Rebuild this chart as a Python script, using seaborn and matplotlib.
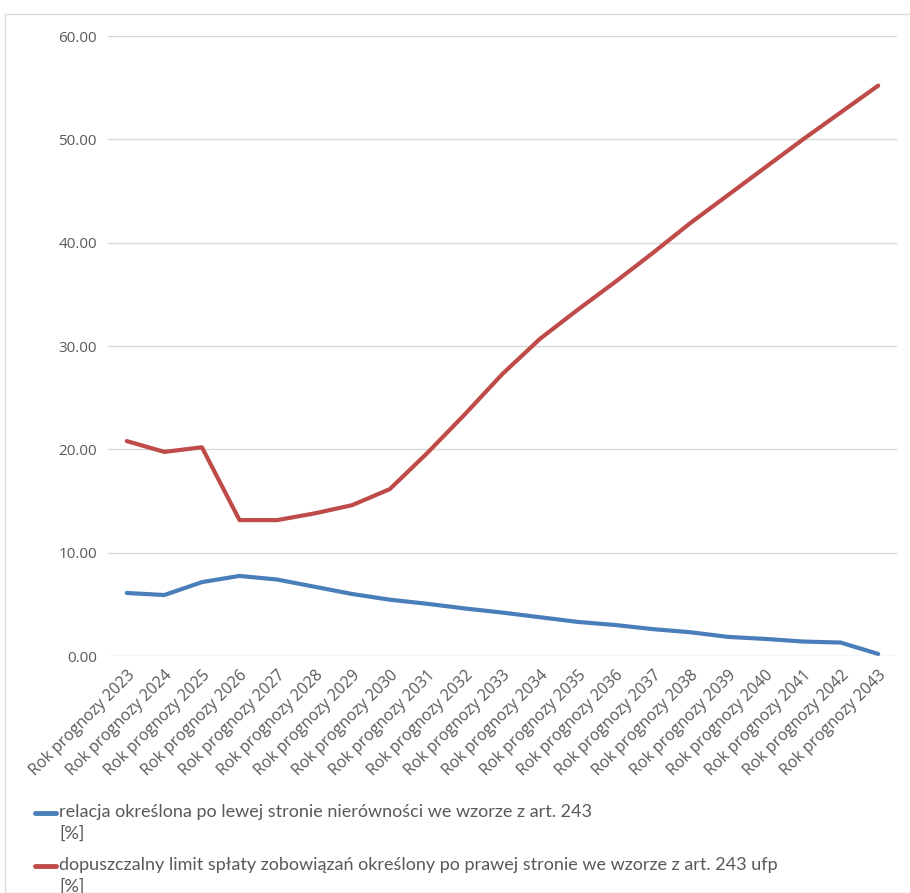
import matplotlib
matplotlib.use('Agg')
import matplotlib.pyplot as plt
from matplotlib.lines import Line2D
from matplotlib.patches import Rectangle
import seaborn as sns
import pandas as pd

lata = [f'Rok prognozy {r}' for r in range(2023, 2044)]
relacja_lewa = [6.1, 5.9, 7.15, 7.75, 7.4, 6.7, 6.0, 5.45, 5.05, 4.6, 4.2,
                3.75, 3.3, 3.0, 2.6, 2.3, 1.85, 1.65, 1.4, 1.3, 0.2]
limit_prawa = [20.8, 19.75, 20.2, 13.15, 13.15, 13.8, 14.6, 16.15, 19.65, 23.4, 27.3,
               30.7, 33.5, 36.2, 39.0, 41.9, 44.6, 47.3, 50.0, 52.6, 55.2]
etykiety = ['relacja określona po lewej stronie nierówności we wzorze z art. 243',
            'dopuszczalny limit spłaty zobowiązań określony po prawej stronie we wzorze z art. 243 ufp']
kolory = ['#4a7ebb', '#be4b48']

sns.set_style('white')
plt.rcParams['font.family'] = ['Lato', 'DejaVu Sans']

df = pd.DataFrame({'rok': lata * 2,
                   'wartosc': relacja_lewa + limit_prawa,
                   'seria': [etykiety[0]] * len(lata) + [etykiety[1]] * len(lata)})
df['x'] = list(range(len(lata))) * 2

fig = plt.figure(figsize=(9.1, 8.93), dpi=100)
ax = fig.add_axes([108 / 910, 1 - 656 / 893, (897 - 108) / 910, (656 - 36) / 893])

sns.lineplot(data=df, x='x', y='wartosc', hue='seria', palette=kolory,
             linewidth=3, ax=ax, legend=False, sort=False)

ax.set_xlim(-0.5, len(lata) - 0.5)
ax.set_ylim(0, 60)
ax.set_yticks(range(0, 61, 10))
ax.set_yticklabels([f'{v:.2f}' for v in range(0, 61, 10)], color='#595959',
                   fontsize=11, family=['Open Sans', 'DejaVu Sans'])
ax.set_xticks(range(len(lata)))
ax.set_xticklabels(lata, rotation=45, ha='right', rotation_mode='anchor',
                   color='#595959', fontsize=11.5, family=['Open Sans', 'DejaVu Sans'])
ax.tick_params(axis='both', length=0, pad=8)
ax.yaxis.grid(True, color='#d9d9d9', linewidth=1)
ax.set_axisbelow(True)
for s in ax.spines.values():
    s.set_visible(False)
ax.set_xlabel('')
ax.set_ylabel('')

# ramka wykresu
fig.patches.append(Rectangle((5 / 910, 0), 1, 1 - 14 / 893, transform=fig.transFigure,
                             fill=False, edgecolor='#d9d9d9', linewidth=1))

# legenda pod wykresem
for i, (lab, kol) in enumerate(zip(etykiety, kolory)):
    y = 1 - (813 + i * 53) / 893
    fig.add_artist(Line2D([35 / 910, 56 / 910], [y, y], color=kol, linewidth=3.5,
                          transform=fig.transFigure))
    fig.text(59 / 910, y + 9 / 893, lab + '\n[%]', fontsize=13, color='#595959',
             va='top', ha='left', linespacing=1.4, transform=fig.transFigure)

fig.savefig('out.png', dpi=100)
